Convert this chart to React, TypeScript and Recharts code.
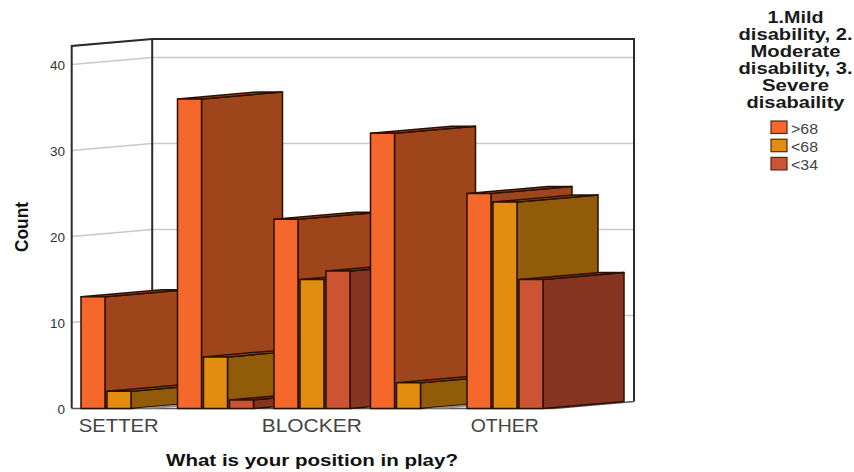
import { BarChart, Bar, XAxis, YAxis, CartesianGrid, ReferenceArea } from "recharts";

const positions = ["SETTER", "(2)", "BLOCKER", "(4)", "OTHER"];
const groups = [">68", "<68", "<34"];
const above68 = [13, 36, 22, 32, 25];
const below68 = [2, 6, 15, 3, 24];
const below34 = [0, 1, 16, 0, 15];
const yTicks = [0, 10, 20, 30, 40];
const legendTitle = ["1.Mild", "disability, 2.", "Moderate", "disability, 3.", "Severe", "disabaility"];
const legendTitleWidths = [56, 114, 90, 114, 67, 98];
const tickWidths: Record<string, number> = { SETTER: 80, BLOCKER: 100, OTHER: 68 };

const seriesValues = [above68, below68, below34];
const frontColors = ["#f4682b", "#e28c10", "#cc5434"];
const sideColors = ["#9e451b", "#925b0a", "#863523"];
const topColors = ["#a9481c", "#9a600b", "#8c3722"];

const OUTLINE = "#2a1003";
const WALL = "#2b2b2b";
const GRID = "#c9c9c9";
const FONT = "'Liberation Sans', Arial, sans-serif";

// offset of the back plane of the 3D box
const DEPTH_X = 81;
const DEPTH_Y = 7;

const W = 854;
const H = 472;
const PLOT_LEFT = 71;
const PLOT_TOP = 46;
const PLOT_RIGHT = 553.5;
const PLOT_BOTTOM = 408.5;
const BACK_RIGHT = 634;

const barKey = (cat: number, s: number) => `c${cat}s${s}`;

const rows = positions.map((position, cat) => {
  const row: Record<string, string | number> = { position };
  positions.forEach((_, c) => {
    groups.forEach((_, s) => {
      row[barKey(c, s)] = c === cat ? seriesValues[s][cat] : 0;
    });
  });
  return row;
});

const pts = (list: number[][]) => list.map((p) => p.join(",")).join(" ");

// front, side and top faces of one extruded bar
const makeBar3D = (cat: number, s: number) => (props: any) => {
  const { x, y, width, height, payload } = props;
  if (payload.position !== positions[cat]) return <g />;
  const bottom = y + height;
  const right = x + width;
  if (seriesValues[s][cat] === 0) {
    return (
      <polygon
        points={pts([[x, bottom], [right, bottom], [right + DEPTH_X, bottom - DEPTH_Y], [x + DEPTH_X, bottom - DEPTH_Y]])}
        fill="#8f8f8f"
      />
    );
  }
  return (
    <g stroke={OUTLINE} strokeWidth={1.5} strokeLinejoin="round">
      <polygon
        points={pts([[right, y], [right + DEPTH_X, y - DEPTH_Y], [right + DEPTH_X, bottom - DEPTH_Y], [right, bottom]])}
        fill={sideColors[s]}
      />
      <polygon
        points={pts([[x, y], [x + DEPTH_X, y - DEPTH_Y], [right + DEPTH_X, y - DEPTH_Y], [right, y]])}
        fill={topColors[s]}
      />
      <rect x={x} y={y} width={width} height={height} fill={frontColors[s]} />
    </g>
  );
};

// left wall, back wall and floor edge of the box
const Walls = (props: any) => {
  const left = props.x + 0.7;
  const top = props.y;
  const bottom = props.y + props.height;
  const backLeft = left + DEPTH_X - 0.5;
  const backTop = top - DEPTH_Y;
  const backBottom = bottom - DEPTH_Y;
  return (
    <g fill="none" stroke={WALL} strokeWidth={2}>
      <polyline points={pts([[left, bottom], [left, top], [backLeft, backTop], [BACK_RIGHT, backTop], [BACK_RIGHT, backBottom]])} />
      <line x1={backLeft} y1={backTop} x2={backLeft} y2={backBottom} />
      <polyline
        points={pts([[left, bottom], [PLOT_RIGHT, bottom], [BACK_RIGHT, backBottom]])}
        stroke="#555555"
        strokeWidth={1.5}
      />
    </g>
  );
};

const WallGridLine = (props: any) => {
  const { y1 } = props;
  if (Math.abs(y1 - PLOT_BOTTOM) < 1) return <g />;
  const left = PLOT_LEFT + 0.7;
  return (
    <polyline
      points={pts([[left, y1], [left + DEPTH_X - 0.5, y1 - DEPTH_Y], [BACK_RIGHT, y1 - DEPTH_Y]])}
      fill="none"
      stroke={GRID}
      strokeWidth={1.4}
    />
  );
};

const PositionTick = (props: any) => {
  const { x, payload } = props;
  return (
    <text
      x={x - 0.5}
      y={432}
      textAnchor="middle"
      fontFamily={FONT}
      fontSize={17.5}
      fill="#444444"
      textLength={tickWidths[payload.value]}
      lengthAdjust="spacingAndGlyphs"
    >
      {payload.value}
    </text>
  );
};

const LegendBlock = () => (
  <svg width={W} height={H} style={{ position: "absolute", left: 0, top: 0, pointerEvents: "none" }}>
    {legendTitle.map((line, i) => (
      <text
        key={line + i}
        x={795.5}
        y={22.5 + i * 17.1}
        textAnchor="middle"
        fontFamily={FONT}
        fontWeight="bold"
        fontSize={16.5}
        fill="#1a1a1a"
        textLength={legendTitleWidths[i]}
        lengthAdjust="spacingAndGlyphs"
      >
        {line}
      </text>
    ))}
    {groups.map((g, i) => (
      <g key={g}>
        <rect x={771} y={121 + i * 18.2} width={16} height={12.5} fill={frontColors[i]} stroke="#4a2a18" strokeWidth={1.2} />
        <text
          x={791}
          y={134 + i * 18}
          fontFamily={FONT}
          fontSize={14}
          fill="#444444"
          textLength={27}
          lengthAdjust="spacingAndGlyphs"
        >
          {g}
        </text>
      </g>
    ))}
  </svg>
);

export default function App() {
  return (
    <div style={{ position: "absolute", left: 0, top: 0, width: W, height: H, background: "#ffffff" }}>
      <BarChart
        width={W}
        height={H}
        data={rows}
        barSize={24}
        barGap={2}
        margin={{ top: PLOT_TOP, right: W - PLOT_RIGHT, bottom: 0, left: 0 }}
      >
        <ReferenceArea shape={Walls} />
        <CartesianGrid vertical={false} horizontal={WallGridLine} />
        <XAxis
          dataKey="position"
          height={H - PLOT_BOTTOM}
          axisLine={false}
          tickLine={false}
          interval={1}
          tick={PositionTick}
          label={{
            content: () => (
              <text
                x={312}
                y={466}
                textAnchor="middle"
                fontFamily={FONT}
                fontWeight="bold"
                fontSize={16}
                fill="#111111"
                textLength={292}
                lengthAdjust="spacingAndGlyphs"
              >
                What is your position in play?
              </text>
            ),
          }}
        />
        <YAxis
          width={PLOT_LEFT}
          domain={[0, 42.15]}
          ticks={yTicks}
          axisLine={false}
          tickLine={false}
          tickSize={0}
          tickMargin={6}
          tick={{ fontFamily: FONT, fontSize: 13.5, fill: "#333333", dy: 1 }}
          label={{
            content: () => (
              <text
                transform="translate(27.5,227) rotate(-90)"
                textAnchor="middle"
                fontFamily={FONT}
                fontWeight="bold"
                fontSize={19}
                fill="#111111"
                textLength={50}
                lengthAdjust="spacingAndGlyphs"
              >
                Count
              </text>
            ),
          }}
        />
        {positions.map((_, cat) =>
          groups.map((g, s) => (
            <Bar
              key={barKey(cat, s)}
              dataKey={barKey(cat, s)}
              stackId={g}
              isAnimationActive={false}
              shape={makeBar3D(cat, s)}
            />
          ))
        )}
      </BarChart>
      <LegendBlock />
    </div>
  );
}
